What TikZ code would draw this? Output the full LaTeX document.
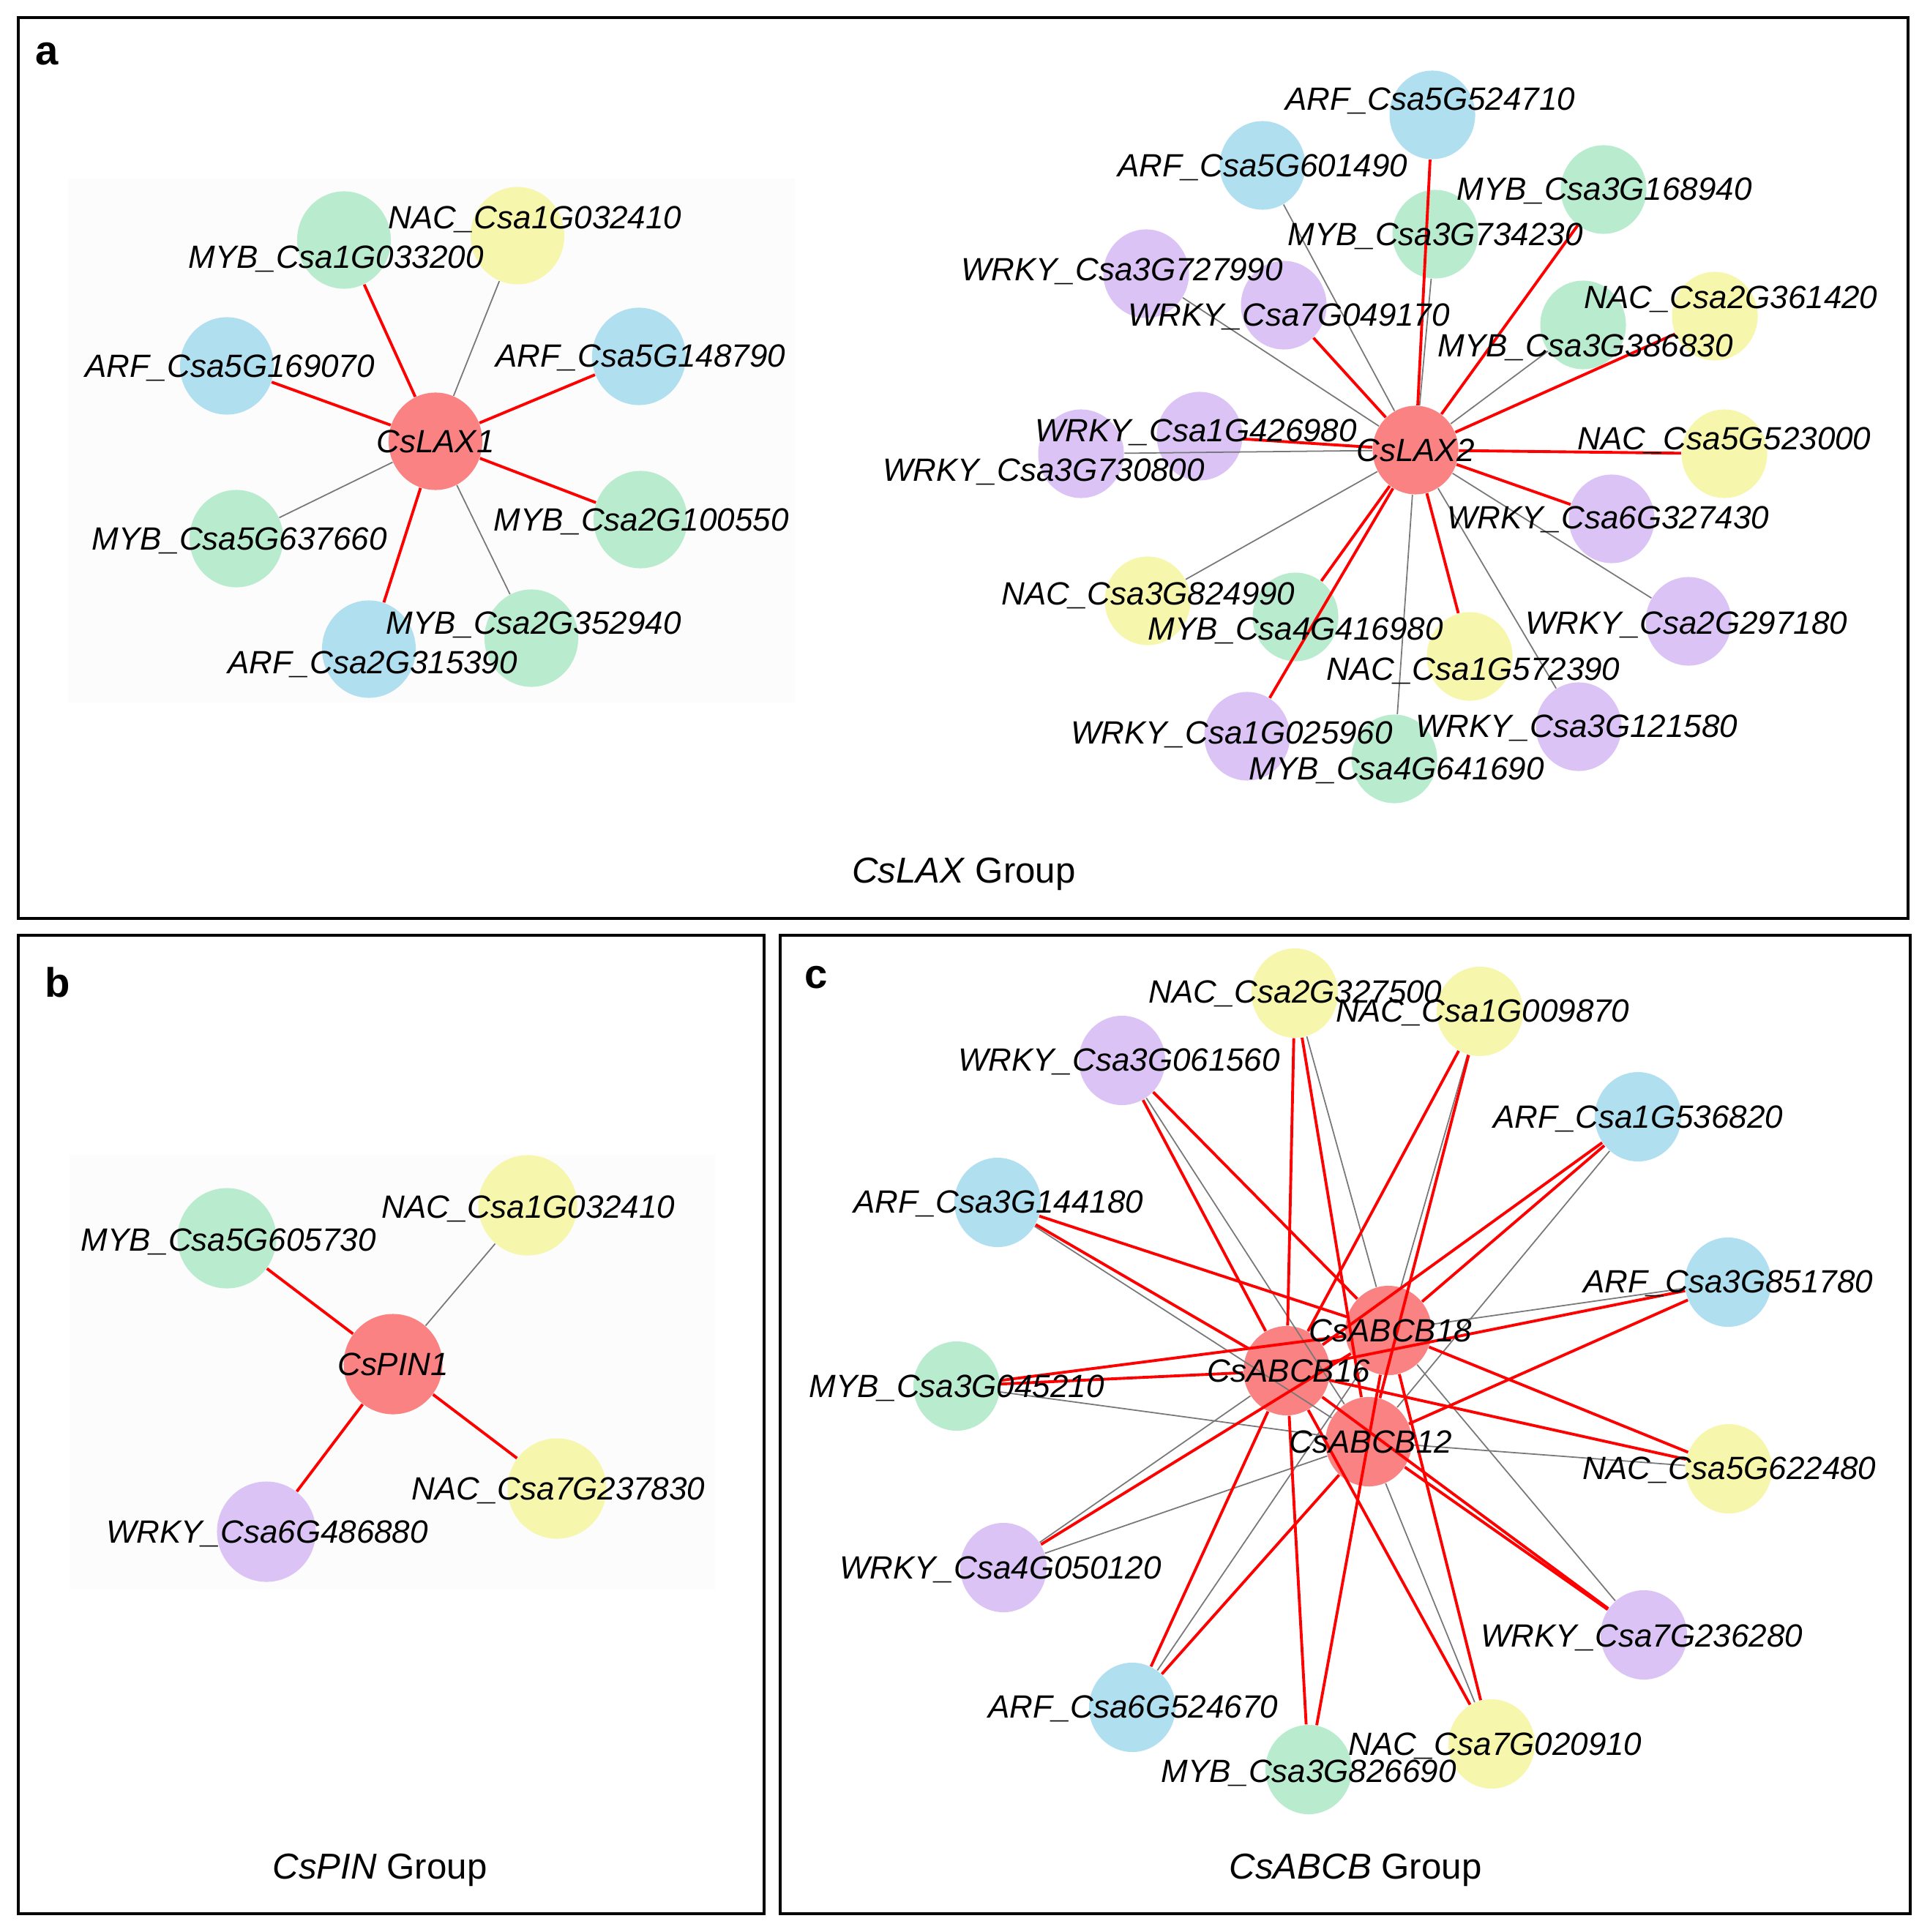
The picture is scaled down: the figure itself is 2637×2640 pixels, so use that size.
\documentclass[tikz,border=0pt]{standalone}
\usepackage{fontspec}
\setmainfont{Liberation Sans}
\usetikzlibrary{shapes.geometric}
\definecolor{hubred}{RGB}{250,130,130}
\definecolor{arfblue}{RGB}{176,223,240}
\definecolor{mybgreen}{RGB}{185,236,206}
\definecolor{nacyellow}{RGB}{246,246,172}
\definecolor{wrkyviolet}{RGB}{219,195,246}
\definecolor{edgered}{RGB}{255,0,0}
\definecolor{edgegray}{RGB}{120,120,120}
\definecolor{faintbg}{RGB}{252,252,252}

\begin{document}
\begin{tikzpicture}[x=0.01cm,y=-0.01cm,
    gene/.style={ellipse,inner sep=0pt,minimum width=1.18cm,minimum height=1.22cm},
    hub/.style={gene,fill=hubred},
    arf/.style={gene,fill=arfblue},
    myb/.style={gene,fill=mybgreen},
    nac/.style={gene,fill=nacyellow},
    wrky/.style={gene,fill=wrkyviolet},
    lbl/.style={font=\itshape\fontsize{12.5}{15}\selectfont,inner sep=0pt,text height=9pt,text depth=0pt},
    grpcap/.style={font=\fontsize{14}{17}\selectfont,inner sep=0pt,text height=10pt,text depth=0pt},
    panellbl/.style={font=\bfseries\fontsize{16}{19}\selectfont,inner sep=0pt,anchor=base},
    redge/.style={draw=edgered,line width=1.1pt},
    gedge/.style={draw=edgegray,line width=0.5pt},
    frame/.style={draw,line width=1pt}]
\useasboundingbox (0,0) rectangle (2637,2640);
\fill[faintbg] (93,244) rectangle (1086,960);
\fill[faintbg] (95,1578) rectangle (977,2172);
\draw[frame] (25,24) rectangle (2607,1255);
\draw[frame] (25,1278) rectangle (1044,2615);
\draw[frame] (1066,1278) rectangle (2610,2615);
\node[panellbl] (pa) at (64,89) {a};
\node[panellbl] (pb) at (79,1362) {b};
\node[panellbl] (pc) at (1115,1350) {c};

\begin{scope}[gene/.append style={minimum width=1.28cm,minimum height=1.33cm}]
\node[hub] (lax1) at (595,603) {};
\node[myb] (m1g033200) at (470,328) {};
\node[nac] (n1g032410) at (707,322) {};
\node[arf] (a5g169070) at (310,500) {};
\node[arf] (a5g148790) at (873,487) {};
\node[myb] (m5g637660) at (323,736) {};
\node[myb] (m2g100550) at (875,710) {};
\node[myb] (m2g352940) at (726,872) {};
\node[arf] (a2g315390) at (504,887) {};
\end{scope}
\path[gedge] (lax1) edge (n1g032410) edge (m5g637660) edge (m2g352940);
\path[redge] (lax1) edge (m1g033200) edge (a5g169070) edge (a5g148790) edge (m2g100550) edge (a2g315390);
\node[lbl] (lax1l) at (595,603) {CsLAX1};
\node[lbl] (m1g033200l) at (459,351) {MYB\_Csa1G033200};
\node[lbl] (n1g032410l) at (731,297) {NAC\_Csa1G032410};
\node[lbl] (a5g169070l) at (314,500) {ARF\_Csa5G169070};
\node[lbl] (a5g148790l) at (875,486) {ARF\_Csa5G148790};
\node[lbl] (m5g637660l) at (327,736) {MYB\_Csa5G637660};
\node[lbl] (m2g100550l) at (876,710) {MYB\_Csa2G100550};
\node[lbl] (m2g352940l) at (729,851) {MYB\_Csa2G352940};
\node[lbl] (a2g315390l) at (509,905) {ARF\_Csa2G315390};

\begin{scope}[gene/.append style={minimum width=1.17cm,minimum height=1.21cm}]
\node[hub] (lax2) at (1934,615) {};
\node[arf] (a5g524710) at (1957,157) {};
\node[arf] (a5g601490) at (1725,226) {};
\node[myb] (m3g168940) at (2191,259) {};
\node[myb] (m3g734230) at (1961,320) {};
\node[wrky] (w3g727990) at (1566,374) {};
\node[wrky] (w7g049170) at (1754,417) {};
\node[nac] (n2g361420) at (2343,432) {};
\node[myb] (m3g386830) at (2163,444) {};
\node[wrky] (w1g426980) at (1639,596) {};
\node[wrky] (w3g730800) at (1477,620) {};
\node[nac] (n5g523000) at (2356,620) {};
\node[wrky] (w6g327430) at (2202,709) {};
\node[nac] (n3g824990) at (1568,821) {};
\node[myb] (m4g416980) at (1770,843) {};
\node[wrky] (w2g297180) at (2307,849) {};
\node[nac] (n1g572390) at (2008,897) {};
\node[wrky] (w1g025960) at (1704,1006) {};
\node[wrky] (w3g121580) at (2157,993) {};
\node[myb] (m4g641690) at (1905,1037) {};
\end{scope}
\path[gedge] (lax2) edge (a5g601490) edge (m3g734230) edge (w3g727990) edge (m3g386830) edge (w3g730800)
  edge (n3g824990) edge (w2g297180) edge (w3g121580) edge (m4g641690);
\path[redge] (lax2) edge (a5g524710) edge (m3g168940) edge (w7g049170) edge (n2g361420) edge (w1g426980)
  edge (n5g523000) edge (w6g327430) edge (m4g416980) edge (w1g025960) edge (n1g572390);
\node[lbl] (lax2l) at (1934,615) {CsLAX2};
\node[lbl] (a5g524710l) at (1954,135) {ARF\_Csa5G524710};
\node[lbl] (a5g601490l) at (1725,226) {ARF\_Csa5G601490};
\node[lbl] (m3g168940l) at (2192,258) {MYB\_Csa3G168940};
\node[lbl] (m3g734230l) at (1961,320) {MYB\_Csa3G734230};
\node[lbl] (w3g727990l) at (1533,368) {WRKY\_Csa3G727990};
\node[lbl] (w7g049170l) at (1761,430) {WRKY\_Csa7G049170};
\node[lbl] (n2g361420l) at (2365,406) {NAC\_Csa2G361420};
\node[lbl] (m3g386830l) at (2166,472) {MYB\_Csa3G386830};
\node[lbl] (w1g426980l) at (1634,588) {WRKY\_Csa1G426980};
\node[lbl] (w3g730800l) at (1426,642) {WRKY\_Csa3G730800};
\node[lbl] (n5g523000l) at (2356,599) {NAC\_Csa5G523000};
\node[lbl] (w6g327430l) at (2197,707) {WRKY\_Csa6G327430};
\node[lbl] (n3g824990l) at (1569,811) {NAC\_Csa3G824990};
\node[lbl] (m4g416980l) at (1770,859) {MYB\_Csa4G416980};
\node[lbl] (w2g297180l) at (2304,851) {WRKY\_Csa2G297180};
\node[lbl] (n1g572390l) at (2013,914) {NAC\_Csa1G572390};
\node[lbl] (w1g025960l) at (1683,1001) {WRKY\_Csa1G025960};
\node[lbl] (w3g121580l) at (2154,992) {WRKY\_Csa3G121580};
\node[lbl] (m4g641690l) at (1908,1050) {MYB\_Csa4G641690};
\node[grpcap] (capa) at (1317,1189) {\textit{CsLAX} Group};

\begin{scope}[gene/.append style={minimum width=1.35cm,minimum height=1.37cm}]
\node[hub] (pin1) at (537,1864) {};
\node[myb] (m5g605730) at (310,1692) {};
\node[nac] (n1g032410b) at (721,1647) {};
\node[nac] (n7g237830) at (761,2034) {};
\node[wrky] (w6g486880) at (364,2093) {};
\end{scope}
\path[gedge] (pin1) edge (n1g032410b);
\path[redge] (pin1) edge (m5g605730) edge (n7g237830) edge (w6g486880);
\node[lbl] (pin1l) at (537,1864) {CsPIN1};
\node[lbl] (m5g605730l) at (312,1694) {MYB\_Csa5G605730};
\node[lbl] (n1g032410bl) at (722,1649) {NAC\_Csa1G032410};
\node[lbl] (n7g237830l) at (763,2034) {NAC\_Csa7G237830};
\node[lbl] (w6g486880l) at (365,2093) {WRKY\_Csa6G486880};
\node[grpcap] (capb) at (519,2550) {\textit{CsPIN} Group};

\node[hub] (b18) at (1897,1818) {};
\node[hub] (b16) at (1758,1873) {};
\node[hub] (b12) at (1870,1970) {};
\node[nac] (n2g327500) at (1769,1357) {};
\node[nac] (n1g009870) at (2022,1382) {};
\node[wrky] (w3g061560) at (1533,1449) {};
\node[arf] (a1g536820) at (2238,1526) {};
\node[arf] (a3g851780) at (2361,1752) {};
\node[arf] (a3g144180) at (1363,1643) {};
\node[myb] (m3g045210) at (1307,1894) {};
\node[nac] (n5g622480) at (2362,2007) {};
\node[wrky] (w7g236280) at (2246,2234) {};
\node[arf] (a6g524670) at (1547,2333) {};
\node[myb] (m3g826690) at (1788,2418) {};
\node[nac] (n7g020910) at (2038,2383) {};
\node[wrky] (w4g050120) at (1371,2142) {};
\path[gedge] (b18) edge (n2g327500) edge (n1g009870) edge (a3g851780) edge (w7g236280) edge (a6g524670);
\path[gedge] (b16) edge (w4g050120);
\path[gedge] (b12) edge (w3g061560) edge (a1g536820) edge (a3g144180) edge (m3g045210) edge (n5g622480)
  edge (n7g020910) edge (m3g826690) edge (w4g050120);
\path[redge] (b18) edge (w3g061560) edge (a1g536820) edge (a3g144180) edge (m3g045210) edge (n5g622480)
  edge (n7g020910) edge (m3g826690) edge (w4g050120);
\path[redge] (b16) edge (n2g327500) edge (n1g009870) edge (w3g061560) edge (a1g536820) edge (a3g851780)
  edge (a3g144180) edge (m3g045210) edge (n5g622480) edge (w7g236280) edge (n7g020910) edge (m3g826690)
  edge (a6g524670);
\path[redge] (b12) edge (n2g327500) edge (n1g009870) edge (a3g851780) edge (w7g236280) edge (a6g524670);
\node[lbl] (b18l) at (1900,1818) {CsABCB18};
\node[lbl] (b16l) at (1761,1873) {CsABCB16};
\node[lbl] (b12l) at (1873,1970) {CsABCB12};
\node[lbl] (n2g327500l) at (1770,1355) {NAC\_Csa2G327500};
\node[lbl] (n1g009870l) at (2026,1381) {NAC\_Csa1G009870};
\node[lbl] (w3g061560l) at (1529,1448) {WRKY\_Csa3G061560};
\node[lbl] (a1g536820l) at (2238,1526) {ARF\_Csa1G536820};
\node[lbl] (a3g851780l) at (2361,1751) {ARF\_Csa3G851780};
\node[lbl] (a3g144180l) at (1364,1642) {ARF\_Csa3G144180};
\node[lbl] (m3g045210l) at (1307,1894) {MYB\_Csa3G045210};
\node[lbl] (n5g622480l) at (2363,2006) {NAC\_Csa5G622480};
\node[lbl] (w7g236280l) at (2243,2235) {WRKY\_Csa7G236280};
\node[lbl] (a6g524670l) at (1548,2332) {ARF\_Csa6G524670};
\node[lbl] (m3g826690l) at (1788,2420) {MYB\_Csa3G826690};
\node[lbl] (n7g020910l) at (2043,2383) {NAC\_Csa7G020910};
\node[lbl] (w4g050120l) at (1367,2142) {WRKY\_Csa4G050120};
\node[grpcap] (capc) at (1852,2550) {\textit{CsABCB} Group};
\end{tikzpicture}
\end{document}
